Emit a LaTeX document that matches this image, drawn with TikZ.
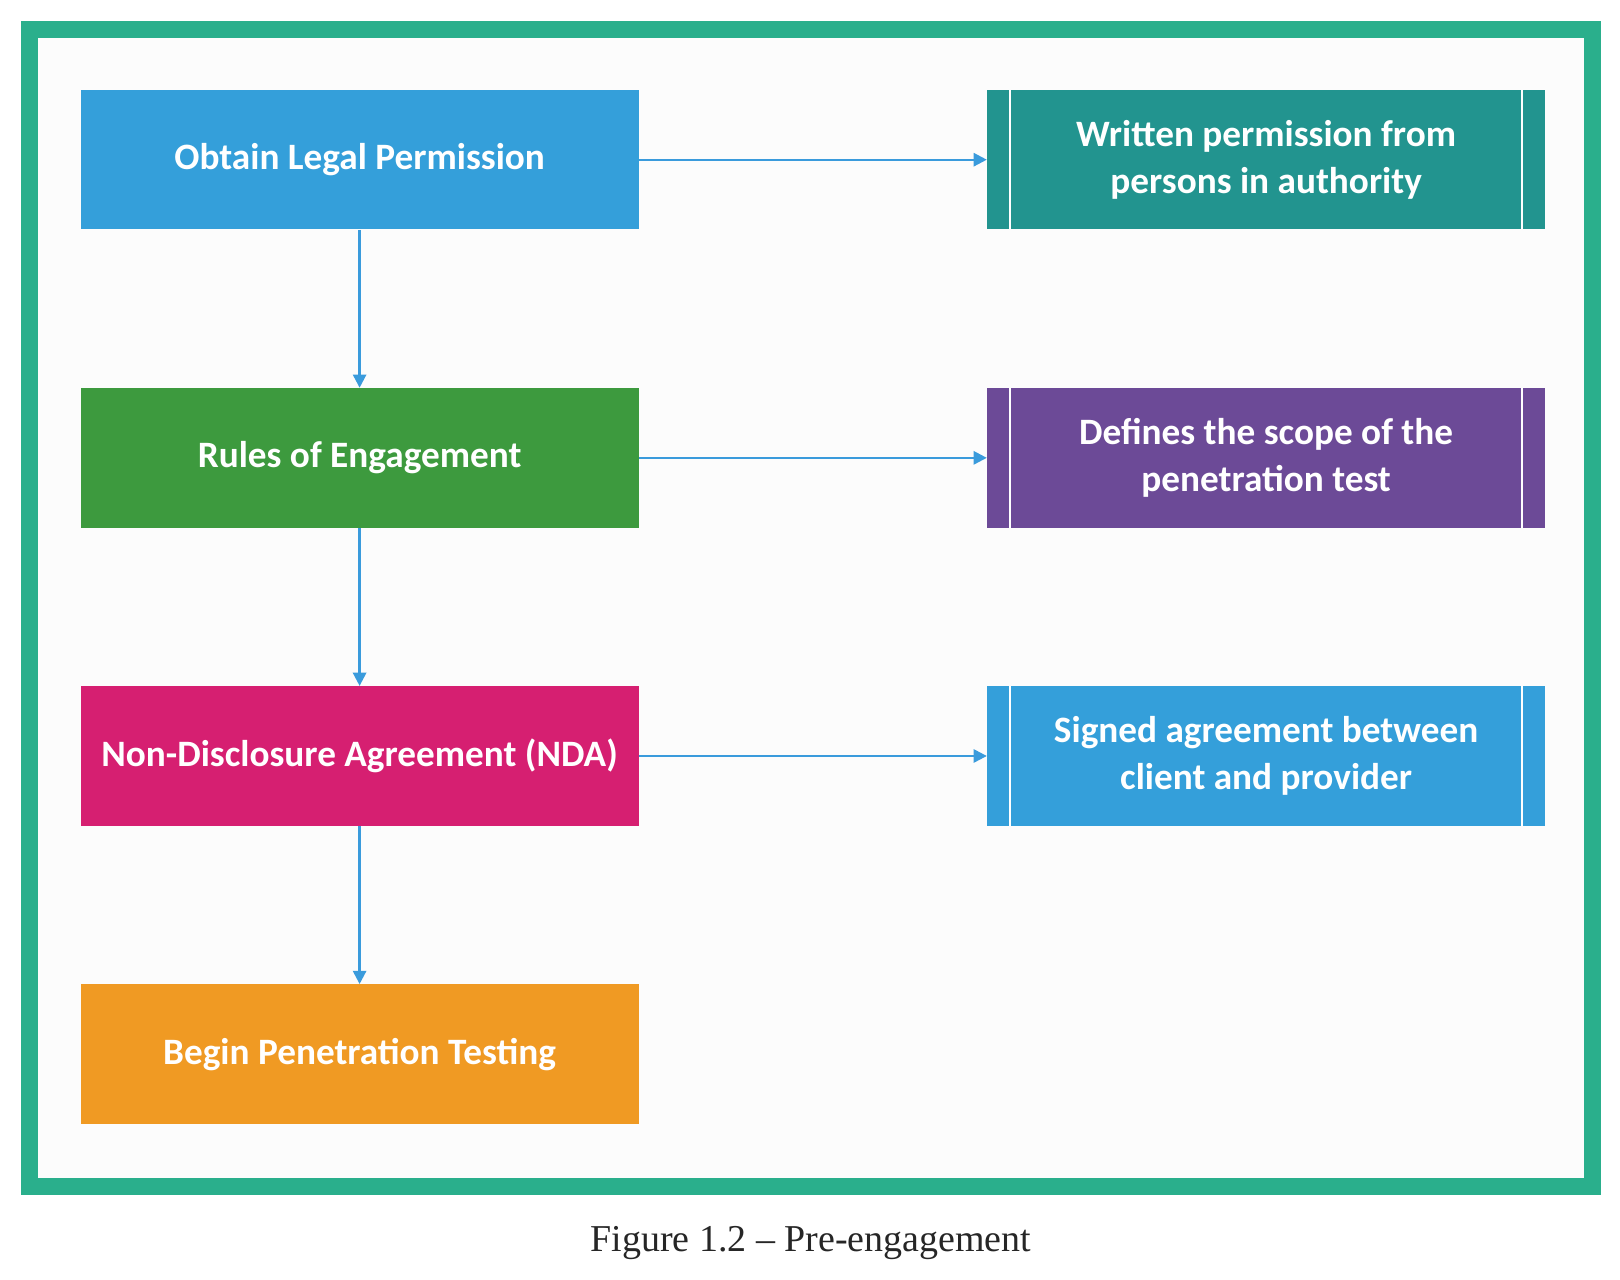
\documentclass[tikz,border=0pt]{standalone}
\usepackage{fontspec}
\setmainfont{Liberation Serif}
\newfontfamily\boxfont{Carlito}
\usepackage{xcolor}
\usepackage{tikz}
\usetikzlibrary{arrows.meta, positioning}
\definecolor{framegreen}{HTML}{2AAF8C}
\definecolor{skyblue}{HTML}{349FDA}
\definecolor{leafgreen}{HTML}{3D9A3E}
\definecolor{ndapink}{HTML}{D61F71}
\definecolor{startorange}{HTML}{F09A23}
\definecolor{tealbox}{HTML}{22948F}
\definecolor{purplebox}{HTML}{6C4A97}
\definecolor{arrowblue}{HTML}{3A9BDC}
\definecolor{paper}{HTML}{FCFCFC}

\begin{document}
\begin{tikzpicture}[
  x=0.02cm, y=-0.02cm,
  font=\boxfont\bfseries\fontsize{21.2}{26.5}\selectfont,
  stepbox/.style={rectangle, draw=none, text=white, align=center,
                  minimum width=11.16cm, minimum height=2.79cm, inner sep=2pt},
  notebox/.style={stepbox,
                  path picture={
                    \draw[white, line width=0.9pt]
                      ([xshift=0.46cm]path picture bounding box.north west) --
                      ([xshift=0.46cm]path picture bounding box.south west);
                    \draw[white, line width=0.9pt]
                      ([xshift=-0.46cm]path picture bounding box.north east) --
                      ([xshift=-0.46cm]path picture bounding box.south east);
                  }},
  arr/.style={-{Triangle[length=7.5pt, width=7.5pt]}, arrowblue, line width=1.3pt},
  node distance=3.16cm and 6.96cm
]
  \useasboundingbox (0,0) rectangle (1620,1280);
  \fill[white] (0,0) rectangle (1620,1280);
  \draw[framegreen, line width=0.35cm, fill=paper] (29.5,29.5) rectangle (1592.5,1186.7);

  % left column
  \node[stepbox, fill=skyblue] (legal) at (359.6,159.7) {Obtain Legal Permission};
  \node[stepbox, fill=leafgreen, below=of legal] (rules) {Rules of Engagement};
  \node[stepbox, fill=ndapink, below=of rules] (nda) {Non-Disclosure Agreement (NDA)};
  \node[stepbox, fill=startorange, below=of nda] (begin) {Begin Penetration Testing};

  % right column
  \node[notebox, fill=tealbox, right=of legal] (written) {Written permission from\\persons in authority};
  \node[notebox, fill=purplebox, right=of rules] (scope) {Defines the scope of the\\penetration test};
  \node[notebox, fill=skyblue, right=of nda] (signed) {Signed agreement between\\client and provider};

  \draw[arr] (legal) -- (rules);
  \draw[arr] (rules) -- (nda);
  \draw[arr] (nda) -- (begin);
  \draw[arr] (legal) -- (written);
  \draw[arr] (rules) -- (scope);
  \draw[arr] (nda) -- (signed);

  \node[font=\rmfamily\fontsize{21.6}{26}\selectfont, text=black!85] (caption) at (811,1243)
    {Figure 1.2 -- Pre-engagement};
\end{tikzpicture}
\end{document}
